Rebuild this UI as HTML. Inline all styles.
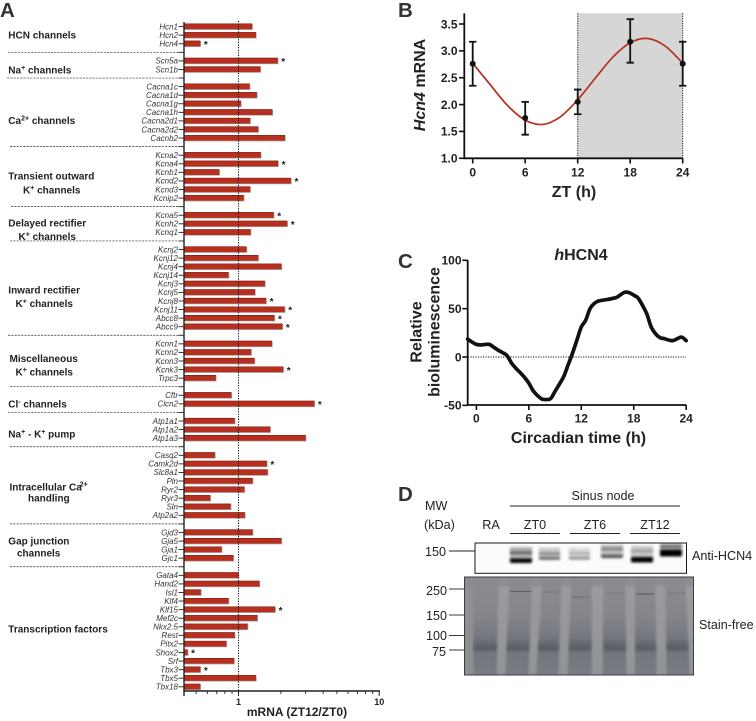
<!DOCTYPE html>
<html lang="en">
<head>
<meta charset="utf-8">
<title>Hcn4 circadian expression figure</title>
<style>
html,body{margin:0;padding:0;background:#fff;}
svg{display:block;font-family:"Liberation Sans",sans-serif;filter:blur(0.3px);}
.panel{font-weight:bold;font-size:20.5px;fill:#333;}
.group{font-weight:bold;font-size:10px;fill:#222;}
.sup{font-size:7px;}
.lab16{font-weight:bold;font-size:16px;fill:#222;}
.blot{font-size:12.6px;fill:#222;}
</style>
</head>
<body>
<svg id="fig" xmlns="http://www.w3.org/2000/svg" width="756" height="721" viewBox="0 0 756 721">
<defs>
<filter id="b1" x="-20%" y="-20%" width="140%" height="140%"><feGaussianBlur stdDeviation="1"/></filter>
<filter id="b2" x="-20%" y="-100%" width="140%" height="300%"><feGaussianBlur stdDeviation="1.2"/></filter>
<linearGradient id="laneGrad" x1="0" y1="0" x2="0" y2="1">
<stop offset="0" stop-color="#8c8d91"/>
<stop offset="0.42" stop-color="#84868b"/>
<stop offset="0.62" stop-color="#73767d"/>
<stop offset="0.715" stop-color="#585c64"/>
<stop offset="0.75" stop-color="#72767d"/>
<stop offset="1" stop-color="#7a7d84"/>
</linearGradient>
<linearGradient id="gapGrad" x1="0" y1="0" x2="0" y2="1">
<stop offset="0" stop-color="#9b9c9d"/>
<stop offset="1" stop-color="#919497"/>
</linearGradient>
<clipPath id="gelClip"><rect x="464.5" y="577" width="229" height="98"/></clipPath>
<clipPath id="antiClip"><rect x="475.5" y="543.5" width="211" height="29.5"/></clipPath>
</defs>

<!-- Panel letters -->
<text class="panel" x="0" y="17">A</text>
<text class="panel" x="398" y="17">B</text>
<text class="panel" x="398" y="268">C</text>
<text class="panel" x="398" y="501">D</text>

<!-- Panel A group labels -->
<g id="groupLabels">
<text class="group" x="8.3" y="38.6">HCN channels</text>
<text class="group" x="8.3" y="73.6">Na<tspan class="sup" dy="-3.5">+</tspan><tspan dy="3.5"> channels</tspan></text>
<text class="group" x="8.3" y="124.2">Ca<tspan class="sup" dy="-3.5">2+</tspan><tspan dy="3.5"> channels</tspan></text>
<text class="group" x="8.3" y="179.6">Transient outward</text>
<text class="group" x="23" y="193.4">K<tspan class="sup" dy="-3.5">+</tspan><tspan dy="3.5"> channels</tspan></text>
<text class="group" x="8.3" y="226.6">Delayed rectifier</text>
<text class="group" x="18.5" y="240">K<tspan class="sup" dy="-3.5">+</tspan><tspan dy="3.5"> channels</tspan></text>
<text class="group" x="8.3" y="293.6">Inward rectifier</text>
<text class="group" x="15.5" y="307">K<tspan class="sup" dy="-3.5">+</tspan><tspan dy="3.5"> channels</tspan></text>
<text class="group" x="9.5" y="362">Miscellaneous</text>
<text class="group" x="15.5" y="375.5">K<tspan class="sup" dy="-3.5">+</tspan><tspan dy="3.5"> channels</tspan></text>
<text class="group" x="8.3" y="407.6">Cl<tspan class="sup" dy="-3.5">-</tspan><tspan dy="3.5"> channels</tspan></text>
<text class="group" x="8.3" y="437.6">Na<tspan class="sup" dy="-3.5">+</tspan><tspan dy="3.5"> - K</tspan><tspan class="sup" dy="-3.5">+</tspan><tspan dy="3.5"> pump</tspan></text>
<text class="group" x="9.5" y="490.5">Intracellular Ca<tspan class="sup" dx="-2" dy="-4">2+</tspan></text>
<text class="group" x="28" y="501.5">handling</text>
<text class="group" x="8.3" y="544.6">Gap junction</text>
<text class="group" x="17" y="556.3">channels</text>
<text class="group" x="8.3" y="632.6">Transcription factors</text>
</g>

<g id="panelA"></g>
<text x="297" y="716" text-anchor="middle" font-size="12" font-weight="bold" fill="#222">mRNA (ZT12/ZT0)</text>

<g id="panelB"></g>
<text class="lab16" x="574" y="197" text-anchor="middle">ZT (h)</text>
<text class="lab16" transform="translate(425,85) rotate(-90)" text-anchor="middle"><tspan font-style="italic">Hcn4</tspan> mRNA</text>

<g id="panelC"></g>
<text class="lab16" x="581" y="260" text-anchor="middle"><tspan font-style="italic">h</tspan>HCN4</text>
<text class="lab16" x="578.5" y="443" text-anchor="middle">Circadian time (h)</text>
<text class="lab16" transform="translate(421.5,332) rotate(-90)" text-anchor="middle">Relative</text>
<text class="lab16" transform="translate(439.5,332) rotate(-90)" text-anchor="middle">bioluminescence</text>

<!-- Panel D -->
<g id="panelD">
<text class="blot" x="425" y="510">MW</text>
<text class="blot" x="424" y="529">(kDa)</text>
<text class="blot" x="491" y="529" text-anchor="middle">RA</text>
<text class="blot" x="603" y="500" text-anchor="middle">Sinus node</text>
<line x1="510" x2="680" y1="506" y2="506" stroke="#222" stroke-width="0.9"/>
<text class="blot" x="535" y="529" text-anchor="middle">ZT0</text>
<text class="blot" x="595" y="529" text-anchor="middle">ZT6</text>
<text class="blot" x="655" y="529" text-anchor="middle">ZT12</text>
<line x1="510" x2="560" y1="533.5" y2="533.5" stroke="#222" stroke-width="0.9"/>
<line x1="570" x2="620" y1="533.5" y2="533.5" stroke="#222" stroke-width="0.9"/>
<line x1="630" x2="680" y1="533.5" y2="533.5" stroke="#222" stroke-width="0.9"/>
<text class="blot" x="425" y="556">150</text>
<line x1="449" x2="475" y1="551" y2="551" stroke="#222" stroke-width="0.9"/>
<text class="blot" x="692" y="560">Anti-HCN4</text>
<text class="blot" x="699" y="629">Stain-free</text>
<text class="blot" x="426" y="595">250</text>
<text class="blot" x="426" y="620">150</text>
<text class="blot" x="426" y="640">100</text>
<text class="blot" x="432" y="656">75</text>
<line x1="449" x2="464" y1="589" y2="589" stroke="#222" stroke-width="0.9"/>
<line x1="449" x2="464" y1="615" y2="615" stroke="#222" stroke-width="0.9"/>
<line x1="449" x2="464" y1="635.5" y2="635.5" stroke="#222" stroke-width="0.9"/>
<line x1="449" x2="464" y1="650" y2="650" stroke="#222" stroke-width="0.9"/>
<g id="antiBlot" clip-path="url(#antiClip)"></g>
<rect x="475" y="543" width="211.5" height="30.3" fill="none" stroke="#1a1a1a" stroke-width="1"/>
<g id="gelBlot" clip-path="url(#gelClip)"></g>
<rect x="464.5" y="577" width="229" height="98" fill="none" stroke="#3a3d42" stroke-width="1"/>
</g>
</svg>

<script>
/* ---------- Panel A data ---------- */
var geneNames = ['Hcn1','Hcn2','Hcn4','','Scn5a','Scn1b','','Cacna1c','Cacna1d','Cacna1g','Cacna1h','Cacna2d1','Cacna2d2','Cacnb2','','Kcna2','Kcna4','Kcnb1','Kcnd2','Kcnd3','Kcnip2','','Kcna5','Kcnh2','Kcnq1','','Kcnj2','Kcnj12','Kcnj4','Kcnj14','Kcnj3','Kcnj5','Kcnj8','Kcnj11','Abcc8','Abcc9','','Kcnn1','Kcnn2','Kcnn3','Kcnk3','Trpc3','','Cftr','Clcn2','','Atp1a1','Atp1a2','Atp1a3','','Casq2','Camk2d','Slc8a1','Pln','Ryr2','Ryr3','Sln','Atp2a2','','Gjd3','Gja5','Gja1','Gjc1','','Gata4','Hand2','Isl1','Klf4','Klf15','Mef2c','Nkx2.5','Rest','Pitx2','Shox2','Srf','Tbx3','Tbx5','Tbx18'];
var geneRatios = [1.25,1.33,0.535,null,1.90,1.43,null,1.20,1.35,1.04,1.74,1.21,1.38,2.14,null,1.44,1.91,0.73,2.36,1.21,1.09,null,1.78,2.22,1.22,null,1.14,1.38,2.02,0.85,1.54,1.31,1.57,2.13,1.80,2.05,null,1.73,1.23,1.30,2.08,0.69,null,0.89,3.46,null,0.94,1.68,3.00,null,0.68,1.59,1.61,1.26,1.10,0.63,0.88,1.11,null,1.26,2.02,0.76,0.92,null,1.00,1.41,0.54,0.85,1.82,1.36,1.16,0.94,0.82,0.435,0.93,0.535,1.33,0.535];
var significantGenes = ['Hcn4','Scn5a','Kcna4','Kcnd2','Kcna5','Kcnh2','Kcnj8','Kcnj11','Abcc8','Abcc9','Kcnk3','Clcn2','Camk2d','Klf15','Shox2','Tbx3'];
var ratioMajorTicks = [1,10];
var ratioMinorTicks = [0.5,0.6,0.7,0.8,0.9,2,3,4,5,6,7,8,9];
var separatorStarts = {3:8,6:7,14:10,21:11,25:10,36:8,42:10,45:8,49:10,58:10,63:10};

/* ---------- Panel B data ---------- */
var ztHours = [0,6,12,18,24];
var ztMeans = [2.76,1.75,2.05,3.17,2.76];
var ztUpper = [3.17,2.05,2.28,3.59,3.17];
var ztLower = [2.35,1.44,1.82,2.78,2.35];
var fitHours = [0,2,4,6,8,10,12,14,16,18,20,22,24];
var fitValues = [2.77,2.37,1.98,1.71,1.63,1.77,2.09,2.49,2.88,3.15,3.23,3.09,2.77];
var ztTickLabels = ['0','6','12','18','24'];
var mrnaTicks = [1.0,1.5,2.0,2.5,3.0,3.5];

/* ---------- Panel C data ---------- */
var circHours = [-1,-0.5,0,0.5,1,1.5,2,2.5,3,3.5,4,4.5,5,5.5,6,6.5,7,7.5,8,8.5,9,9.5,10,10.5,11,11.5,12,12.5,13,13.5,14,15,16,16.5,17,17.5,18,18.5,19,19.5,20,20.5,21,21.5,22,22.5,23,23.5,24];
var circValues = [18.6,15.5,13,12.5,13,13,10,7,4.5,1.5,-6,-11.5,-16,-21,-27,-35,-40,-43.5,-44,-43,-35.5,-28,-20,-8,4,17.5,31,38,50,55.5,58,59.5,61.5,64.5,67,66.5,64,61,53.5,44.5,31,24,20,19,17.5,17,19,20.5,17];
var circTicks = [0,6,12,18,24];
var lumTicks = [-50,0,50,100];

/* ---------- helpers ---------- */
var NS = 'http://www.w3.org/2000/svg';
function mk(tag, parent, attrs, txt) {
  var e = document.createElementNS(NS, tag);
  for (var k in attrs) e.setAttribute(k, attrs[k]);
  if (txt !== undefined) e.textContent = txt;
  parent.appendChild(e);
  return e;
}
function smooth(pts) {
  var d = 'M' + pts[0][0] + ' ' + pts[0][1];
  for (var i = 0; i < pts.length - 1; i++) {
    var p0 = pts[Math.max(0, i - 1)], p1 = pts[i], p2 = pts[i + 1], p3 = pts[Math.min(pts.length - 1, i + 2)];
    d += 'C' + (p1[0] + (p2[0] - p0[0]) / 6) + ' ' + (p1[1] + (p2[1] - p0[1]) / 6) + ' ' +
         (p2[0] - (p3[0] - p1[0]) / 6) + ' ' + (p2[1] - (p3[1] - p1[1]) / 6) + ' ' + p2[0] + ' ' + p2[1];
  }
  return d;
}
var el;

/* ---------- Panel A ---------- */
(function () {
  var g = document.getElementById('panelA');
  var x0 = 184;
  function xA(v) { return 238.5 + 140.7 * Math.log10(v); }
  function yA(i) { return 26.6 + 8.574 * i; }
  var axisBottom = 691;
  geneNames.forEach(function (name, i) {
    var y = yA(i);
    el = mk('line', g, {x1: x0 - 5.5, x2: x0, y1: y, y2: y, stroke: '#222', 'stroke-width': 0.9});
    
    
    if (geneRatios[i] === null) {
      el = mk('line', g, {x1: separatorStarts[i], x2: x0, y1: y, y2: y, stroke: '#333', 'stroke-width': 0.7, 'stroke-dasharray': '2.2 1.1'});
      
      
      return;
    }
    el = mk('text', g, {x: 178, y: y + 2.8, 'text-anchor': 'end', 'font-size': 8, 'font-style': 'italic', fill: '#333'}, name);
    
    
    var xe = xA(geneRatios[i]);
    el = mk('rect', g, {x: x0, y: y - 2.8, width: xe - x0 + 0.7, height: 6.1, fill: '#a5a5a5'});
    
    
    el = mk('rect', g, {x: x0, y: y - 3, width: xe - x0, height: 5.6, fill: '#b7301f'});
    
    
    el = mk('line', g, {x1: x0, x2: xe, y1: y - 2.8, y2: y - 2.8, stroke: '#7c1b10', 'stroke-width': 0.6});
    
    
    if (significantGenes.indexOf(name) >= 0) {
      el = mk('text', g, {x: xe + 5.5, y: y + 4.2, 'text-anchor': 'middle', 'font-size': 10, 'font-weight': 'bold', fill: '#222'}, '*');
      
      
    }
  });
  el = mk('line', g, {x1: 238.5, x2: 238.5, y1: 21, y2: axisBottom, stroke: '#111', 'stroke-width': 1.1, 'stroke-dasharray': '1.2 1.4'});
  
  
  el = mk('line', g, {x1: x0, x2: x0, y1: 22, y2: axisBottom + 5, stroke: '#222', 'stroke-width': 1.4});
  
  
  el = mk('line', g, {x1: x0 - 0.6, x2: 380, y1: axisBottom, y2: axisBottom, stroke: '#222', 'stroke-width': 1.4});
  
  
  ratioMinorTicks.forEach(function (v) {
    el = mk('line', g, {x1: xA(v), x2: xA(v), y1: axisBottom, y2: axisBottom + 3, stroke: '#222', 'stroke-width': 0.9});
    
    
  });
  ratioMajorTicks.forEach(function (v) {
    el = mk('line', g, {x1: xA(v), x2: xA(v), y1: axisBottom, y2: axisBottom + 5, stroke: '#222', 'stroke-width': 1});
    
    
    el = mk('text', g, {x: xA(v), y: axisBottom + 14, 'text-anchor': 'middle', 'font-size': 9, 'font-weight': 'bold', fill: '#222'}, String(v));
    
    
  });
})();

/* ---------- Panel B ---------- */
(function () {
  var g = document.getElementById('panelB');
  function xB(h) { return 472.7 + 8.75 * h; }
  function yB(v) { return 158.3 - 53.72 * (v - 1); }
  var top = 13.3;
  el = mk('rect', g, {x: xB(12), y: top, width: xB(24) - xB(12), height: 158.3 - top, fill: '#d6d6d6'});
  
  
  [12, 24].forEach(function (h) {
    el = mk('line', g, {x1: xB(h), x2: xB(h), y1: top, y2: 158.3, stroke: '#222', 'stroke-width': 1, 'stroke-dasharray': '1.2 1.2'});
    
    
  });
  el = mk('path', g, {d: smooth(fitHours.map(function (h, i) { return [xB(h), yB(fitValues[i])]; })), fill: 'none', stroke: '#b7301f', 'stroke-width': 1.7});
  
  
  ztHours.forEach(function (h, i) {
    var x = xB(h);
    el = mk('path', g, {d: 'M' + (x - 3.7) + ' ' + yB(ztUpper[i]) + 'H' + (x + 3.7) + 'M' + x + ' ' + yB(ztUpper[i]) + 'V' + yB(ztLower[i]) + 'M' + (x - 3.7) + ' ' + yB(ztLower[i]) + 'H' + (x + 3.7), fill: 'none', stroke: '#111', 'stroke-width': 1.8});
    
    
    el = mk('circle', g, {cx: x, cy: yB(ztMeans[i]), r: 3, fill: '#111'});
    
    
    el = mk('line', g, {x1: x, x2: x, y1: 158.3, y2: 163.5, stroke: '#111', 'stroke-width': 1.6});
    
    
    el = mk('text', g, {x: x, y: 176.5, 'text-anchor': 'middle', 'font-size': 12, 'font-weight': 'bold', fill: '#222'}, ztTickLabels[i]);
    
    
  });
  mrnaTicks.forEach(function (v) {
    el = mk('line', g, {x1: 459, x2: 464.3, y1: yB(v), y2: yB(v), stroke: '#111', 'stroke-width': 1.6});
    
    
    el = mk('text', g, {x: 457.5, y: yB(v) + 4.3, 'text-anchor': 'end', 'font-size': 12, 'font-weight': 'bold', fill: '#222'}, v.toFixed(1));
    
    
  });
  el = mk('path', g, {d: 'M464.3 ' + top + 'V158.3H' + xB(24), fill: 'none', stroke: '#111', 'stroke-width': 1.8});
  
  
})();

/* ---------- Panel C ---------- */
(function () {
  var g = document.getElementById('panelC');
  function xC(h) { return 476.4 + 8.74 * h; }
  function yC(v) { return 357 - 0.9667 * v; }
  el = mk('line', g, {x1: 468, x2: xC(24), y1: yC(0), y2: yC(0), stroke: '#111', 'stroke-width': 1.1, 'stroke-dasharray': '1.2 1.3'});
  
  
  el = mk('path', g, {d: smooth(circHours.map(function (h, i) { return [xC(h), yC(circValues[i])]; })), fill: 'none', stroke: '#111', 'stroke-width': 3.7, 'stroke-linecap': 'round'});
  
  
  circTicks.forEach(function (h) {
    el = mk('line', g, {x1: xC(h), x2: xC(h), y1: 405, y2: 410, stroke: '#111', 'stroke-width': 1.6});
    
    
    el = mk('text', g, {x: xC(h), y: 422.5, 'text-anchor': 'middle', 'font-size': 12, 'font-weight': 'bold', fill: '#222'}, String(h));
    
    
  });
  lumTicks.forEach(function (v) {
    el = mk('line', g, {x1: 462.3, x2: 467.7, y1: yC(v), y2: yC(v), stroke: '#111', 'stroke-width': 1.6});
    
    
    el = mk('text', g, {x: 461.5, y: yC(v) + 4.3, 'text-anchor': 'end', 'font-size': 12, 'font-weight': 'bold', fill: '#222'}, String(v));
    
    
  });
  el = mk('path', g, {d: 'M467.7 260V405H' + xC(24), fill: 'none', stroke: '#111', 'stroke-width': 1.8});
  
  
})();

/* ---------- Panel D: anti-HCN4 blot ---------- */
(function () {
  var g = document.getElementById('antiBlot');
  mk('rect', g, {x: 475, y: 543, width: 212, height: 31, fill: '#fbfbfb'});
  var lanes = [
    {x: 510, w: 22, halo: '#b4b4b4', top: 547, b1: 551, c1: '#6e6e6e', h1: 3.5, b2: 558.5, c2: '#050505', h2: 4.5},
    {x: 539, w: 21, halo: '#cdcdcd', top: 547.5, b1: 552, c1: '#8d8d8d', h1: 3, b2: 556.5, c2: '#777', h2: 3.5},
    {x: 569, w: 21, halo: '#dcdcdc', top: 547.5, b1: 552, c1: '#ababab', h1: 2.5, b2: 556.5, c2: '#999', h2: 3.2},
    {x: 601, w: 22, halo: '#c4c4c4', top: 544.5, b1: 547.5, c1: '#808080', h1: 3, b2: 554.5, c2: '#5c5c5c', h2: 3.6},
    {x: 631, w: 22, halo: '#c8c8c8', top: 546, b1: 549.5, c1: '#a5a5a5', h1: 3, b2: 557, c2: '#000', h2: 5.5},
    {x: 660, w: 22, halo: '#c8c8c8', top: 543, b1: 545, c1: '#666', h1: 3, b2: 549.5, c2: '#000', h2: 7}
  ];
  lanes.forEach(function (l) {
    el = mk('rect', g, {x: l.x, y: l.top, width: l.w, height: l.b2 - l.top + 2, fill: l.halo, filter: 'url(#b1)'});
    
    
    el = mk('rect', g, {x: l.x, y: l.b1, width: l.w, height: l.h1, rx: 1.5, fill: l.c1, filter: 'url(#b2)'});
    
    
    el = mk('rect', g, {x: l.x, y: l.b2, width: l.w, height: l.h2, rx: 1.5, fill: l.c2, filter: 'url(#b2)'});
    
    
  });
})();

/* ---------- Panel D: stain-free gel ---------- */
(function () {
  var g = document.getElementById('gelBlot');
  el = mk('rect', g, {x: 464, y: 577, width: 230, height: 98, fill: 'url(#gapGrad)'});
  
  
  el = mk('rect', g, {x: 464, y: 577, width: 10, height: 98, fill: '#8e9094'});
  
  
  el = mk('rect', g, {x: 464, y: 577, width: 230, height: 9, fill: '#8b8d92', filter: 'url(#b1)'});
  
  
  var lanes = [[473.3,498.3,473.3,496.7],[510,532.7,505,528.3],[542.7,561.7,536,558.3],[571.7,591.7,567.3,591.7],[603.3,625,602.7,626.7],[635,655,635,656.7],[665,685,666.7,690]];
  lanes.forEach(function (l) {
    el = mk('polygon', g, {points: l[0] + ',570 ' + l[1] + ',570 ' + l[3] + ',680 ' + l[2] + ',680', fill: 'url(#laneGrad)', filter: 'url(#b1)'});
    
    
  });
  var faint = [[510,531,591.5,'#5c5f66'],[636,654,594,'#55585f'],[543,560,592,'#777a80'],[571,590,597,'#6a6d74'],[606,624,593,'#777a80'],[668,686,593,'#777a80']];
  faint.forEach(function (f) {
    el = mk('line', g, {x1: f[0], x2: f[1], y1: f[2], y2: f[2], stroke: f[3], 'stroke-width': 1});
    
    
  });
})();
</script>
</body>
</html>
